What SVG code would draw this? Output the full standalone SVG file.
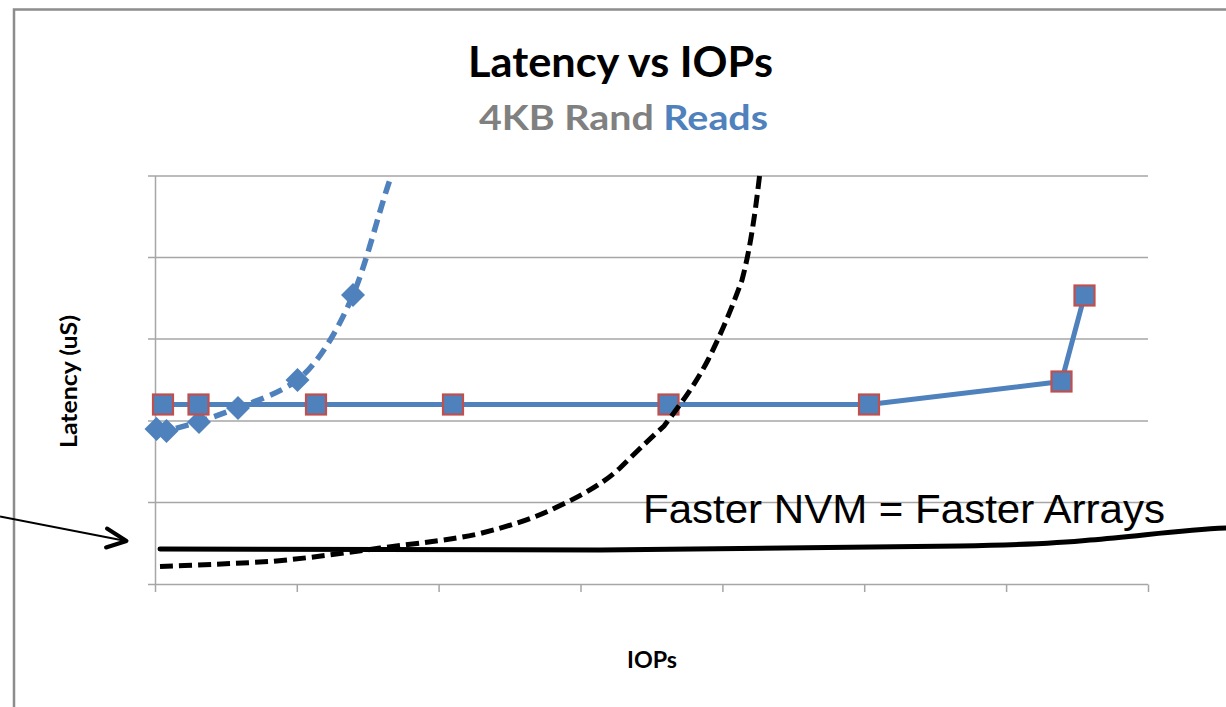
<svg xmlns="http://www.w3.org/2000/svg" width="1226" height="707" viewBox="0 0 1226 707">
  <style>
    .frame { fill: none; stroke: #8c8c8c; stroke-width: 2.5; }
    .grid { fill: none; stroke: #a6a6a6; stroke-width: 1.5; }
    .axis { fill: none; stroke: #a6a6a6; stroke-width: 1.5; }
    .title { font-family: Lato, "Open Sans", sans-serif; font-weight: bold; fill: #000; }
    .subtitle { font-family: Lato, "Open Sans", sans-serif; font-weight: bold; fill: #808080; }
    .hl { fill: #4f81bd; }
    .axis-label { font-family: Lato, "Open Sans", sans-serif; font-weight: bold; font-size: 23px; fill: #000; }
    .note { font-family: "Liberation Sans", Arial, sans-serif; font-size: 40px; fill: #000; }
    .blue-solid { fill: none; stroke: #4f81bd; stroke-width: 5; stroke-linejoin: round; }
    .blue-dash { fill: none; stroke: #4f81bd; stroke-width: 5.5; stroke-dasharray: 13 7; }
    .black-solid { fill: none; stroke: #000; stroke-width: 5; stroke-linecap: round; }
    .black-dash { fill: none; stroke: #000; stroke-width: 5; stroke-dasharray: 13 6; }
    .sq { fill: #4f81bd; stroke: #c0504d; stroke-width: 2.2; }
    .dia { fill: #4f81bd; }
  </style>
  <defs>
    <rect id="sqMark" x="-10" y="-10" width="20" height="20" class="sq"/>
    <polygon id="diaMark" points="0,-12 12,0 0,12 -12,0" class="dia"/>
  </defs>

  <rect width="1226" height="707" fill="#ffffff"/>

  <!-- outer chart frame -->
  <g id="frame">
    <path class="frame" d="M14,707 L14,9.5 L1226,9.5"/>
  </g>

  <!-- titles -->
  <g id="title">
    <text class="title" x="468" y="77" font-size="42" textLength="305" lengthAdjust="spacingAndGlyphs">Latency vs IOPs</text>
    <text class="subtitle" x="479" y="130" font-size="34" textLength="289" lengthAdjust="spacingAndGlyphs">4KB Rand <tspan class="hl">Reads</tspan></text>
  </g>

  <!-- plot grid and axes -->
  <g id="axes">
    <path class="grid" d="M148,176 H1148 M148,257.5 H1148 M148,339 H1148 M148,421 H1148 M148,502.5 H1148"/>
    <path class="axis" d="M155.5,176 V592 M148,584.5 H1148"/>
    <path class="axis" d="M297.3,584.5 V592 M439.1,584.5 V592 M581,584.5 V592 M722.9,584.5 V592 M864.7,584.5 V592 M1006.6,584.5 V592 M1148.5,584.5 V592"/>
  </g>

  <!-- axis labels -->
  <g id="y-label">
    <text class="axis-label" transform="translate(77,381.5) rotate(-90)" text-anchor="middle" textLength="133" lengthAdjust="spacingAndGlyphs">Latency (uS)</text>
  </g>
  <g id="x-label">
    <text class="axis-label" x="627" y="668" textLength="50" lengthAdjust="spacingAndGlyphs">IOPs</text>
  </g>

  <g id="connectors">
    <!-- dashed blue series with diamond markers -->
    <g id="series-diamond">
      <path class="blue-dash" d="M156.5,429 L166.5,431 L199,422 L238,408 C258,400 280,393 297.5,380 C318,364 338,330 353,295 C367,262 378,214 391,176.5"/>
      <use href="#diaMark" x="156.5" y="429"/>
      <use href="#diaMark" x="166.5" y="431"/>
      <use href="#diaMark" x="199" y="422"/>
      <use href="#diaMark" x="238" y="408"/>
      <use href="#diaMark" x="297.5" y="380"/>
      <use href="#diaMark" x="353" y="295"/>
    </g>

    <!-- solid blue series with square markers -->
    <g id="series-square">
      <polyline class="blue-solid" points="163,404.5 198.5,404.5 316,404.5 453,404.5 668.5,404.5 869,404.5 1061.5,381.5 1084.5,295.5"/>
      <use href="#sqMark" x="163" y="404.5"/>
      <use href="#sqMark" x="198.5" y="404.5"/>
      <use href="#sqMark" x="316" y="404.5"/>
      <use href="#sqMark" x="453" y="404.5"/>
      <use href="#sqMark" x="668.5" y="404.5"/>
      <use href="#sqMark" x="869" y="404.5"/>
      <use href="#sqMark" x="1061.5" y="381.5"/>
      <use href="#sqMark" x="1084.5" y="295.5"/>
    </g>

    <!-- hand-drawn black dashed curve -->
    <path id="curve-dashed" class="black-dash" d="M160,566.5 C200,565 245,563 270,561.5 C310,558 345,553 380,548 C420,543 450,540 478,534 C510,526 535,518 557,507 C585,494 605,482 620,468 C640,448 652,437 664,426 C680,405 695,385 708,360 C722,332 733,305 742,280 C750,250 755,215 760,172"/>

    <!-- hand-drawn black solid curve -->
    <path id="curve-solid" class="black-solid" d="M160,549 C300,550 450,551 600,550 C760,549 880,548 960,546 C1020,545 1060,543 1090,540 C1140,536 1180,530 1226,528"/>

    <!-- pointer arrow -->
    <g id="pointer">
      <path d="M0,516.5 L126,541" fill="none" stroke="#000" stroke-width="2"/>
      <path d="M107,528.5 L126.5,541 L106,547.5" fill="none" stroke="#000" stroke-width="4" stroke-linecap="round" stroke-linejoin="round"/>
    </g>
  </g>

  <!-- annotation -->
  <g id="annotation">
    <text class="note" x="643" y="523" textLength="522" lengthAdjust="spacingAndGlyphs">Faster NVM = Faster Arrays</text>
  </g>
</svg>
